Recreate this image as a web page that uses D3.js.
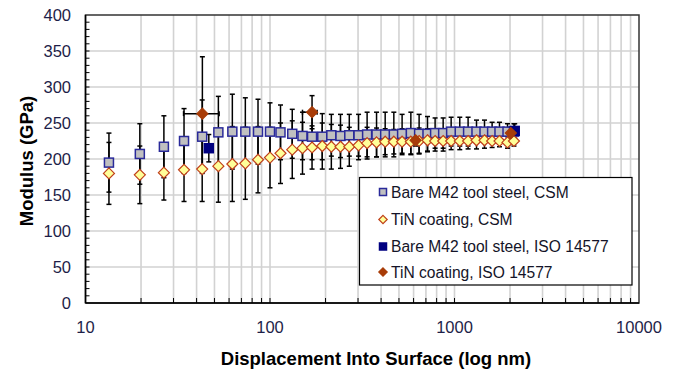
<!DOCTYPE html>
<html>
<head>
<meta charset="utf-8">
<script src="https://cdn.jsdelivr.net/npm/d3@7"></script>
<style>
body { margin: 0; background: #fff; }
text { font-family: "Liberation Sans", Arial, sans-serif; }
</style>
</head>
<body>
<div class="chart"></div>
<script>
// depth (nm) for the CSM series
var depth = [13.4, 19.7, 26.6, 34.2, 42.9, 52.5, 62.5, 73.5, 86.1, 100, 114, 132, 150, 169, 192, 215, 241, 269, 302, 336,
    378, 421, 469, 520, 580, 643, 714, 785, 868, 959, 1068, 1185, 1316, 1454, 1599, 1753, 1938, 2100];
var bareCSM = [195, 207, 217, 225, 231, 237, 238, 238, 238, 238, 237, 235, 232, 231, 231, 233, 232, 233, 233, 234,
    234, 234, 234, 235, 236, 235, 235, 236, 236, 238, 238, 238, 238, 238, 238, 238, 238, 238];
var bareCSMerr = [41, 42, 43, 45, 51, 50, 52, 47, 45, 40, 38, 34, 33, 32, 32, 29, 30, 29, 29, 31,
    31, 31, 31, 27, 29, 27, 24, 21, 21, 20, 20, 20, 16, 16, 13, 13, 11, 11];
var tinCSM = [180, 178, 181, 185, 186, 190, 193, 194, 199, 202, 208, 213, 215, 216, 218, 217, 217, 217, 219, 222,
    223, 224, 224, 224, 224, 225, 226, 225, 225, 225, 225, 225, 226, 226, 225, 225, 223, 225];
var tinCSMerr = [43, 40, 38, 44, 45, 50, 52, 50, 46, 42, 42, 40, 36, 30, 32, 31, 30, 27, 20, 22,
    20, 18, 17, 18, 18, 18, 16, 14, 14, 12, 12, 11, 12, 11, 9, 8, 8, 7];

// ISO 14577 points
var bareISOdepth = [46.6, 2120];
var bareISO = [215, 239];
var bareISOerr = [19, 10];
var tinISOdepth = [43, 169, 615, 2020];
var tinISO = [263, 265, 226, 236];
var tinISOerr = [79, 23, 8, 8];
var tinISOlo = [34, 150, 615, 2020];
var tinISOhi = [53, 180, 615, 2020];

var xTicks = [10, 100, 1000, 10000];
var yTicks = [0, 50, 100, 150, 200, 250, 300, 350, 400];
var legendLabels = ["Bare M42 tool steel, CSM", "TiN coating, CSM", "Bare M42 tool steel, ISO 14577", "TiN coating, ISO 14577"];

var width = 678, height = 369;
var padL = 85.5, padR = 639, padT = 15, padB = 303;

var svg = d3.select(".chart").append("svg")
    .attr("width", width)
    .attr("height", height);

var x = d3.scaleLog().domain([10, 10000]).range([padL, padR]);
var y = d3.scaleLinear().domain([0, 400]).range([padB, padT]);

// minor log values
var minors = [];
[10, 100, 1000].forEach(function (dec) {
    for (var k = 2; k <= 9; k++) minors.push(dec * k);
});
var vgrid = minors.concat([100, 1000]);

// grid
svg.append("g").selectAll("line")
    .data(vgrid)
    .enter().append("line")
    .attr("x1", function (d) { return x(d); })
    .attr("x2", function (d) { return x(d); })
    .attr("y1", padT).attr("y2", padB)
    .attr("stroke", "#d2d2d2").attr("stroke-width", 1.6);

svg.append("g").selectAll("line")
    .data(yTicks.slice(1, -1))
    .enter().append("line")
    .attr("x1", padL).attr("x2", padR)
    .attr("y1", function (d) { return y(d); })
    .attr("y2", function (d) { return y(d); })
    .attr("stroke", "#d2d2d2").attr("stroke-width", 1.6);

// plot border
svg.append("rect")
    .attr("x", padL).attr("y", padT)
    .attr("width", padR - padL).attr("height", padB - padT)
    .attr("fill", "none").attr("stroke", "#333").attr("stroke-width", 1.5);

// y axis minor ticks (inside)
svg.append("g").selectAll("line")
    .data(d3.range(10, 400, 10))
    .enter().append("line")
    .attr("x1", padL).attr("x2", padL + 4)
    .attr("y1", function (d) { return y(d); })
    .attr("y2", function (d) { return y(d); })
    .attr("stroke", "#000").attr("stroke-width", 1);

// x axis minor ticks (inside)
svg.append("g").selectAll("line")
    .data(vgrid)
    .enter().append("line")
    .attr("x1", function (d) { return x(d); })
    .attr("x2", function (d) { return x(d); })
    .attr("y1", padB).attr("y2", padB - 5)
    .attr("stroke", "#000").attr("stroke-width", 1);

// axis lines
svg.append("line").attr("x1", padL).attr("x2", padL).attr("y1", padT).attr("y2", padB)
    .attr("stroke", "#000").attr("stroke-width", 1.5);
svg.append("line").attr("x1", padL).attr("x2", padR).attr("y1", padB).attr("y2", padB)
    .attr("stroke", "#000").attr("stroke-width", 1.5);

// tick labels
svg.append("g").selectAll("text")
    .data(yTicks)
    .enter().append("text")
    .attr("x", 71)
    .attr("y", function (d) { return y(d) + 6; })
    .attr("text-anchor", "end")
    .attr("font-size", 16.5)
    .attr("fill", "#1e1e48")
    .text(function (d) { return d; });

svg.append("g").selectAll("text")
    .data(xTicks)
    .enter().append("text")
    .attr("x", function (d) { return x(d); })
    .attr("y", 333)
    .attr("text-anchor", "middle")
    .attr("font-size", 16.5)
    .attr("fill", "#1e1e48")
    .text(function (d) { return d; });

// axis titles
svg.append("text")
    .attr("x", 376).attr("y", 365)
    .attr("text-anchor", "middle")
    .attr("font-size", 18.5).attr("font-weight", "bold")
    .text("Displacement Into Surface (log nm)");

svg.append("text")
    .attr("transform", "translate(33,161) rotate(-90)")
    .attr("text-anchor", "middle")
    .attr("font-size", 18.5).attr("font-weight", "bold")
    .text("Modulus (GPa)");

// error bars
function vbars(xs, ys, es) {
    var g = svg.append("g").attr("stroke", "#000").attr("stroke-width", 1.5);
    xs.forEach(function (d, i) {
        var px = x(d), y0 = y(ys[i] - es[i]), y1 = y(ys[i] + es[i]);
        g.append("line").attr("x1", px).attr("x2", px).attr("y1", y0).attr("y2", y1);
        g.append("line").attr("x1", px - 2.5).attr("x2", px + 2.5).attr("y1", y0).attr("y2", y0);
        g.append("line").attr("x1", px - 2.5).attr("x2", px + 2.5).attr("y1", y1).attr("y2", y1);
    });
}
vbars(depth, bareCSM, bareCSMerr);
vbars(depth, tinCSM, tinCSMerr);
vbars(bareISOdepth, bareISO, bareISOerr);
vbars(tinISOdepth, tinISO, tinISOerr);

// horizontal error bars for TiN ISO
var hb = svg.append("g").attr("stroke", "#000").attr("stroke-width", 1.5);
tinISOdepth.forEach(function (d, i) {
    if (tinISOlo[i] == tinISOhi[i]) return;
    var py = y(tinISO[i]), a = x(tinISOlo[i]), b = x(tinISOhi[i]);
    hb.append("line").attr("x1", a).attr("x2", b).attr("y1", py).attr("y2", py);
    hb.append("line").attr("x1", a).attr("x2", a).attr("y1", py - 2.5).attr("y2", py + 2.5);
    hb.append("line").attr("x1", b).attr("x2", b).attr("y1", py - 2.5).attr("y2", py + 2.5);
});

// markers
function square(g, px, py, s, fill, stroke) {
    g.append("rect")
        .attr("x", px - s / 2).attr("y", py - s / 2)
        .attr("width", s).attr("height", s)
        .attr("fill", fill).attr("stroke", stroke).attr("stroke-width", 1.5);
}
function diamond(g, px, py, r, fill, stroke) {
    g.append("path")
        .attr("d", "M" + px + "," + (py - r) + "L" + (px + r) + "," + py + "L" + px + "," + (py + r) + "L" + (px - r) + "," + py + "Z")
        .attr("fill", fill).attr("stroke", stroke).attr("stroke-width", 1.2);
}

var marks = svg.append("g");
depth.forEach(function (d, i) { square(marks, x(d), y(bareCSM[i]), 9, "#c0c0c0", "#2a2a9a"); });
depth.forEach(function (d, i) { diamond(marks, x(d), y(tinCSM[i]), 5.5, "#ffff99", "#c0401a"); });
bareISOdepth.forEach(function (d, i) { square(marks, x(d), y(bareISO[i]), 9, "#000080", "#000080"); });
tinISOdepth.forEach(function (d, i) { diamond(marks, x(d), y(tinISO[i]), 5.5, "#a83c08", "#a83c08"); });

// legend
var lg = svg.append("g");
lg.append("rect")
    .attr("x", 359.5).attr("y", 177.5)
    .attr("width", 272.5).attr("height", 107.5)
    .attr("fill", "#fff").attr("stroke", "#000").attr("stroke-width", 1.2);

var rowY = [192, 219.5, 246.5, 272];
legendLabels.forEach(function (t, i) {
    var cy = rowY[i];
    if (i == 0) square(lg, 383, cy, 7, "#c0c0c0", "#2a2a9a");
    if (i == 1) diamond(lg, 383, cy, 4.2, "#ffff99", "#c0401a");
    if (i == 2) square(lg, 383, cy, 7, "#000080", "#000080");
    if (i == 3) diamond(lg, 383, cy, 4.2, "#a83c08", "#a83c08");
    lg.append("text")
        .attr("x", 391).attr("y", cy + 5.5)
        .attr("font-size", 15.6)
        .attr("fill", "#141428")
        .text(t);
});
</script>
</body>
</html>
